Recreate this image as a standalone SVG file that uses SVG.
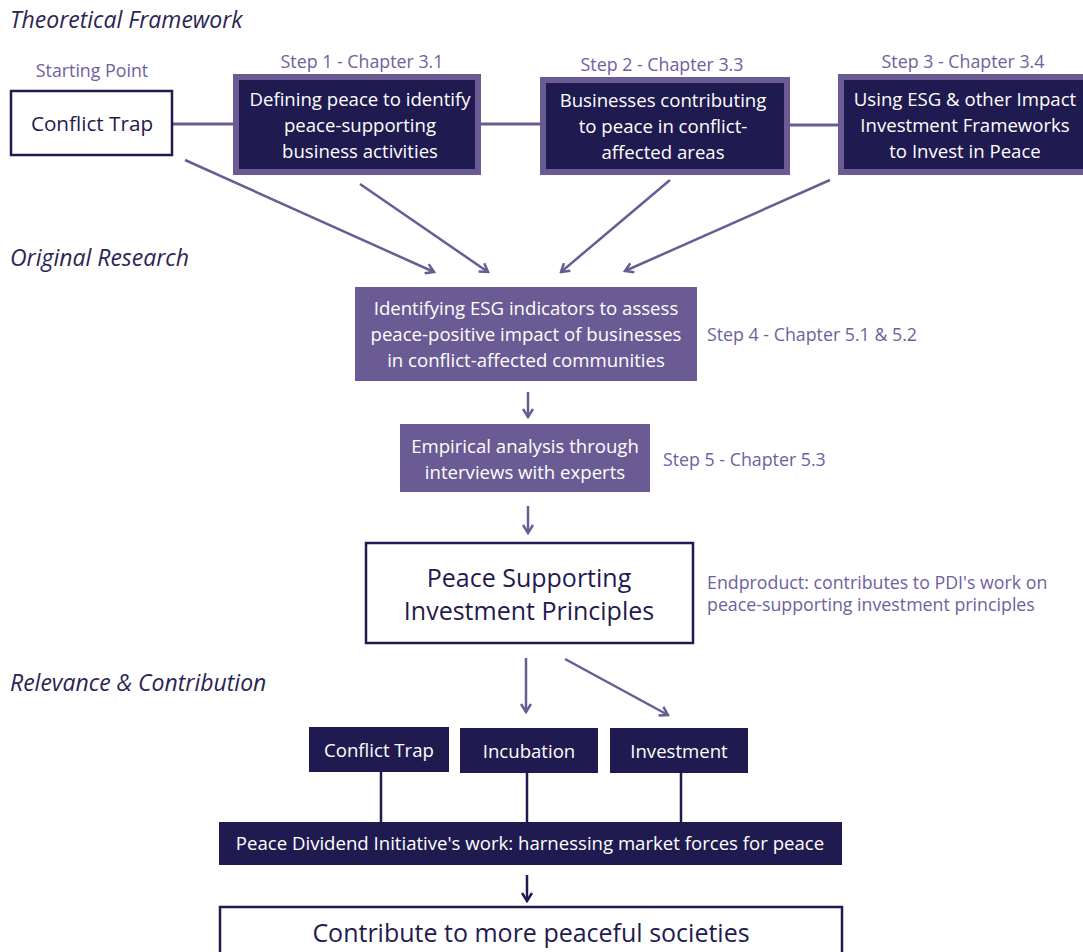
<svg xmlns="http://www.w3.org/2000/svg" width="1083" height="952" viewBox="0 0 1083 952">
  <style>
    .heading { font-family: "Open Sans", "Noto Sans", sans-serif; font-style: italic; font-size: 23px; fill: #2b2555; }
    .label { font-family: "Open Sans", "Noto Sans", sans-serif; font-size: 17.8px; fill: #6e619e; }
    .txt-w { font-family: "Open Sans", "Noto Sans", sans-serif; font-size: 18.6px; font-weight: 500; fill: #ffffff; text-anchor: middle; }
    .txt-d { font-family: "Open Sans", "Noto Sans", sans-serif; fill: #1f1a4f; text-anchor: middle; }
    .outline { fill: #ffffff; stroke: #1f1a4f; stroke-width: 2.5; }
    .step-outer { fill: #6a5b94; }
    .step-inner { fill: #1f1a4f; }
    .mid { fill: #6a5b94; }
    .dark { fill: #1f1a4f; }
    .link { stroke: #6a5b94; stroke-width: 3; fill: none; }
    .arrow { stroke: #6a5b94; stroke-width: 2.5; fill: none; marker-end: url(#chev); }
    .arrow-dark { stroke: #1f1a4f; stroke-width: 2.5; fill: none; marker-end: url(#chev-dark); }
    .stem { stroke: #1f1a4f; stroke-width: 2.5; fill: none; }
  </style>
  <defs>
    <marker id="chev" viewBox="0 0 12 12" refX="10" refY="6" markerWidth="12" markerHeight="12" markerUnits="userSpaceOnUse" orient="auto">
      <path d="M2,1 L10,6 L2,11" fill="none" stroke="#6a5b94" stroke-width="2.5"/>
    </marker>
    <marker id="chev-dark" viewBox="0 0 12 12" refX="10" refY="6" markerWidth="12" markerHeight="12" markerUnits="userSpaceOnUse" orient="auto">
      <path d="M2,1 L10,6 L2,11" fill="none" stroke="#1f1a4f" stroke-width="2.5"/>
    </marker>
  </defs>

  <rect width="1083" height="952" fill="#ffffff"/>

  <!-- section headings -->
  <text class="heading" x="10" y="28">Theoretical Framework</text>
  <text class="heading" x="10" y="266">Original Research</text>
  <text class="heading" x="10" y="691">Relevance &amp; Contribution</text>

  <!-- connectors -->
  <g id="connectors">
    <line class="link" x1="172" y1="124" x2="233" y2="124"/>
    <line class="link" x1="481" y1="124" x2="540" y2="124"/>
    <line class="link" x1="790" y1="125" x2="838" y2="125"/>
    <line class="arrow" x1="185" y1="160" x2="434" y2="272"/>
    <line class="arrow" x1="360" y1="184" x2="488" y2="272"/>
    <line class="arrow" x1="670" y1="180" x2="561" y2="272"/>
    <line class="arrow" x1="830" y1="180" x2="625" y2="271"/>
    <line class="arrow" x1="528" y1="392" x2="528" y2="417"/>
    <line class="arrow" x1="528" y1="506" x2="528" y2="533"/>
    <line class="arrow" x1="526" y1="658" x2="526" y2="712"/>
    <line class="arrow" x1="565" y1="659" x2="668" y2="715"/>
    <line class="stem" x1="381" y1="772" x2="381" y2="822"/>
    <line class="stem" x1="527" y1="773" x2="527" y2="822"/>
    <line class="stem" x1="681" y1="773" x2="681" y2="822"/>
    <line class="arrow-dark" x1="527" y1="875" x2="527" y2="901"/>
  </g>

  <g id="start">
    <text class="label" x="92" y="77" text-anchor="middle">Starting Point</text>
    <rect class="outline" x="11" y="91" width="161" height="64"/>
    <text class="txt-d" x="92" y="131" font-size="20.7">Conflict Trap</text>
  </g>

  <g id="step1">
    <text class="label" x="362" y="68" text-anchor="middle">Step 1 - Chapter 3.1</text>
    <rect class="step-outer" x="233" y="74" width="248" height="101"/>
    <rect class="step-inner" x="239" y="80" width="236" height="89"/>
    <text class="txt-w" x="360" y="106">Defining peace to identify</text>
    <text class="txt-w" x="360" y="132">peace-supporting</text>
    <text class="txt-w" x="360" y="158">business activities</text>
  </g>

  <g id="step2">
    <text class="label" x="662" y="71" text-anchor="middle">Step 2 - Chapter 3.3</text>
    <rect class="step-outer" x="540" y="77" width="250" height="98"/>
    <rect class="step-inner" x="546" y="83" width="238" height="86"/>
    <text class="txt-w" x="663" y="107">Businesses contributing</text>
    <text class="txt-w" x="663" y="133">to peace in conflict-</text>
    <text class="txt-w" x="663" y="159">affected areas</text>
  </g>

  <g id="step3">
    <text class="label" x="963" y="68" text-anchor="middle">Step 3 - Chapter 3.4</text>
    <rect class="step-outer" x="838" y="74" width="250" height="101"/>
    <rect class="step-inner" x="844" y="80" width="245" height="89"/>
    <text class="txt-w" x="965" y="106">Using ESG &amp; other Impact</text>
    <text class="txt-w" x="965" y="132">Investment Frameworks</text>
    <text class="txt-w" x="965" y="158">to Invest in Peace</text>
  </g>

  <g id="step4">
    <rect class="mid" x="355" y="287" width="342" height="94"/>
    <text class="txt-w" x="526" y="315">Identifying ESG indicators to assess</text>
    <text class="txt-w" x="526" y="341">peace-positive impact of businesses</text>
    <text class="txt-w" x="526" y="367">in conflict-affected communities</text>
    <text class="label" x="707" y="341">Step 4 - Chapter 5.1 &amp; 5.2</text>
  </g>

  <g id="step5">
    <rect class="mid" x="400" y="424" width="250" height="68"/>
    <text class="txt-w" x="525" y="453">Empirical analysis through</text>
    <text class="txt-w" x="525" y="479">interviews with experts</text>
    <text class="label" x="663" y="466">Step 5 - Chapter 5.3</text>
  </g>

  <g id="principles">
    <rect class="outline" x="366" y="543" width="327" height="100"/>
    <text class="txt-d" x="529" y="587" font-size="25">Peace Supporting</text>
    <text class="txt-d" x="529" y="620" font-size="25">Investment Principles</text>
    <text class="label" x="707" y="589">Endproduct: contributes to PDI's work on</text>
    <text class="label" x="707" y="611">peace-supporting investment principles</text>
  </g>

  <g id="conflict-trap">
    <rect class="dark" x="309" y="727" width="140" height="45"/>
    <text class="txt-w" x="379" y="757" font-size="19">Conflict Trap</text>
  </g>

  <g id="incubation">
    <rect class="dark" x="460" y="728" width="138" height="45"/>
    <text class="txt-w" x="529" y="758" font-size="19">Incubation</text>
  </g>

  <g id="investment">
    <rect class="dark" x="610" y="728" width="138" height="45"/>
    <text class="txt-w" x="679" y="758" font-size="19">Investment</text>
  </g>

  <g id="pdi">
    <rect class="dark" x="219" y="822" width="623" height="43"/>
    <text class="txt-w" x="530" y="850">Peace Dividend Initiative's work: harnessing market forces for peace</text>
  </g>

  <g id="outcome">
    <rect class="outline" x="220" y="907" width="622" height="52"/>
    <text class="txt-d" x="531" y="942" font-size="25">Contribute to more peaceful societies</text>
  </g>
</svg>
